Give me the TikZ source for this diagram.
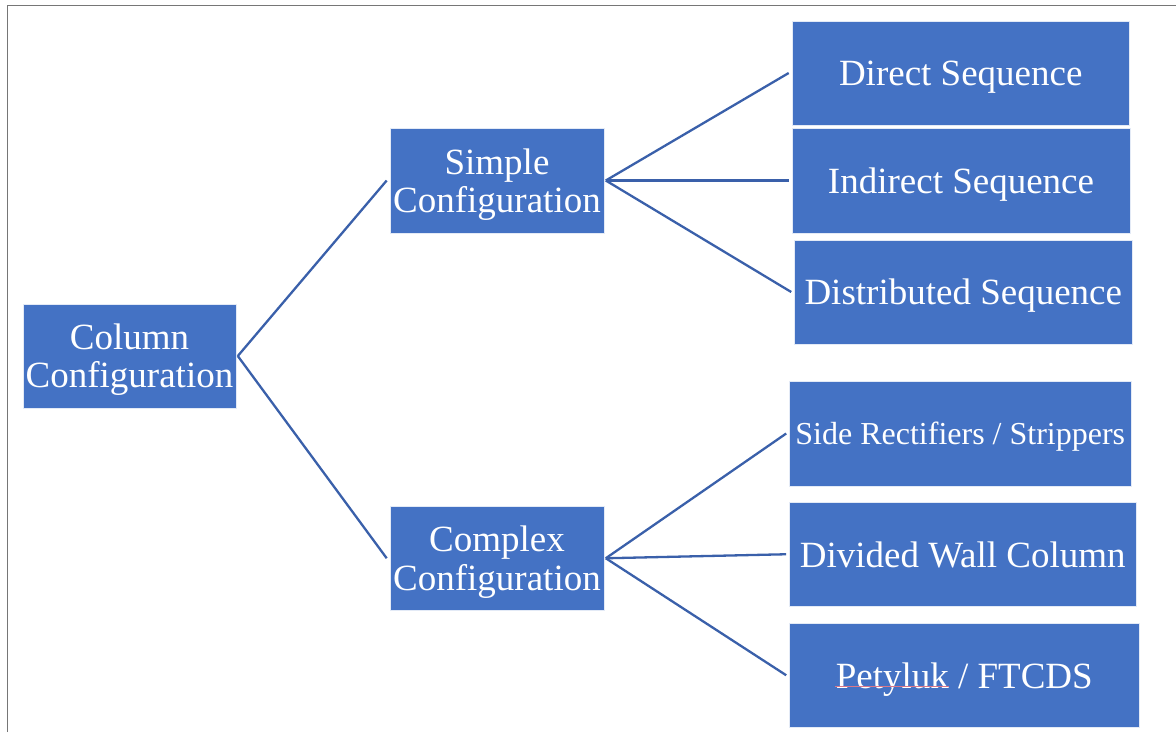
\documentclass[tikz,border=0pt]{standalone}
\usepackage{fontspec}
\setmainfont{Liberation Serif}
\definecolor{boxblue}{HTML}{4472C4}
\definecolor{linkblue}{HTML}{3A60AA}
\definecolor{framegray}{HTML}{767676}
\definecolor{spellred}{HTML}{D9788A}
\tikzset{
  cfgbox/.style={rectangle, fill=boxblue, draw=white!85!boxblue, line width=0.6pt,
    text=white, inner sep=0pt, align=center, text depth=0pt,
    font=\fontsize{37}{38.3}\selectfont},
  link/.style={draw=linkblue, line width=2.3pt},
}
\begin{document}
\begin{tikzpicture}[x=1pt,y=-1pt]
\useasboundingbox (0,0) rectangle (1176,732);
% page frame
\draw[framegray, line width=1.8pt] (7.5,732) -- (7.5,5.5) -- (1176,5.5);

% root
\node[cfgbox, minimum width=213pt, minimum height=104pt] (col) at (129.5,356) {Column\\Configuration};
% second level
\node[cfgbox, minimum width=214pt, minimum height=105pt] (simple) at (497,180.5) {Simple\\Configuration};
\node[cfgbox, minimum width=214pt, minimum height=104.5pt] (complex) at (497,558.25) {Complex\\Configuration};
% leaves of the simple branch
\node[cfgbox, minimum width=337.5pt, minimum height=104pt] (direct) at (960.75,73) {Direct Sequence};
\node[cfgbox, minimum width=338pt, minimum height=105pt] (indirect) at (961,180.5) {Indirect Sequence};
\node[cfgbox, minimum width=337.5pt, minimum height=104pt] (distrib) at (963.25,292) {Distributed Sequence};
% leaves of the complex branch
\node[cfgbox, minimum width=341.5pt, minimum height=105pt, font=\fontsize{32}{34}\selectfont] (side) at (960.25,433.5) {Side Rectifiers / Strippers};
\node[cfgbox, minimum width=346.5pt, minimum height=104.5pt] (dwc) at (962.75,554.25) {Divided Wall Column};
\node[cfgbox, minimum width=349.5pt, minimum height=104.5pt] (petlyuk) at (964.25,675.25) {Petyluk / FTCDS};
% spelling underline under the first word
\draw[spellred, line width=0.7pt] ([xshift=-129pt,yshift=-11.5pt]petlyuk.center) -- ([xshift=-15pt,yshift=-11.5pt]petlyuk.center);

% connectors
\draw[link] ([xshift=1.5pt]col.east) -- ([xshift=-3pt]simple.west);
\draw[link] ([xshift=1.5pt]col.east) -- ([xshift=-3pt]complex.west);
\draw[link] ([xshift=1.5pt]simple.east) -- ([xshift=-3pt]direct.west);
\draw[link] ([xshift=1.5pt]simple.east) -- ([xshift=-3pt]indirect.west);
\draw[link] ([xshift=1.5pt]simple.east) -- ([xshift=-3pt]distrib.west);
\draw[link] ([xshift=1.5pt]complex.east) -- ([xshift=-3pt]side.west);
\draw[link] ([xshift=1.5pt]complex.east) -- ([xshift=-3pt]dwc.west);
\draw[link] ([xshift=1.5pt]complex.east) -- ([xshift=-3pt]petlyuk.west);
\end{tikzpicture}
\end{document}
